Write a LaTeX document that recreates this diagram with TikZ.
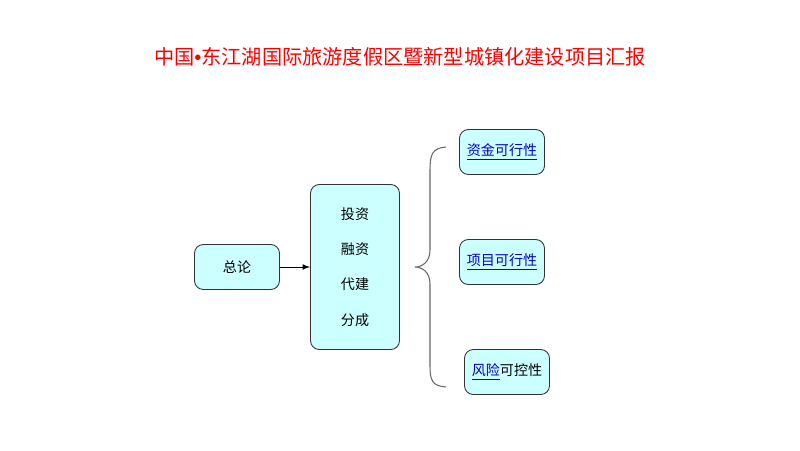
\documentclass[tikz,border=0pt]{standalone}
\usepackage{fontspec}
\setmainfont{Noto Sans CJK SC}
\newfontfamily\latinfont{Liberation Sans}
\usepackage{xcolor}
\definecolor{boxfill}{HTML}{CCFFFF}
\definecolor{linkblue}{HTML}{0000CC}
\begin{document}
\begin{tikzpicture}[x=0.02cm,y=-0.02cm,
    box/.style={draw=black!80,fill=boxfill,rounded corners=5pt,font=\fontsize{8pt}{10pt}\selectfont,line width=0.5pt},
    lnk/.style={color=linkblue}]
    \useasboundingbox (0,0) rectangle (800,450);

    % title
    \node[text=red,font=\fontsize{11.5pt}{14pt}\selectfont] (title) at (400,57) {中国{\latinfont\textbullet}东江湖国际旅游度假区暨新型城镇化建设项目汇报};

    % left and middle boxes
    \node[box,minimum width=85*0.02cm,minimum height=45*0.02cm] (general) at (237,267) {总论};
    \node[box,minimum width=89*0.02cm,minimum height=165*0.02cm,align=center] (finance) at (355,267)
        {投资\\[10pt]融资\\[10pt]代建\\[10pt]分成};

    % right boxes
    \node[box,minimum width=85*0.02cm,minimum height=45*0.02cm] (fund) at (502,152) {\textcolor{linkblue}{\underline{资金可行性}}};
    \node[box,minimum width=85*0.02cm,minimum height=45*0.02cm] (project) at (502,262) {\textcolor{linkblue}{\underline{项目可行性}}};
    \node[box,minimum width=85*0.02cm,minimum height=45*0.02cm] (risk) at (507,372) {\textcolor{linkblue}{\underline{风险}}可控性};

    % arrow
    \draw[-latex,line width=0.5pt] (general) -- (finance);

    % brace
    \draw[black!60,line width=0.6pt] (446,147) .. controls (432,148) and (430,155) .. (430,170)
        -- (430,250) .. controls (430,262) and (422,267) .. (415,267)
        .. controls (422,267) and (430,272) .. (430,284)
        -- (430,366) .. controls (430,380) and (432,386) .. (446,387);
\end{tikzpicture}
\end{document}
